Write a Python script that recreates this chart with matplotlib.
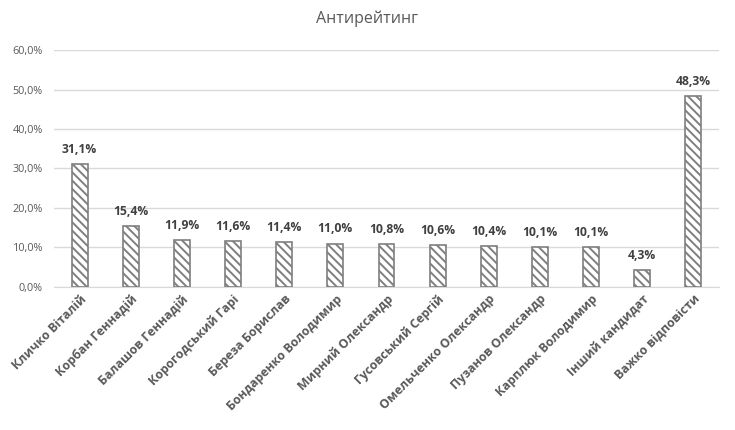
import matplotlib
matplotlib.use("Agg")
import matplotlib.pyplot as plt
from matplotlib.ticker import FuncFormatter

names = ["Кличко Віталій", "Корбан Геннадій", "Балашов Геннадій", "Корогодський Гарі",
         "Береза Борислав", "Бондаренко Володимир", "Мирний Олександр", "Гусовський Сергій",
         "Омельченко Олександр", "Пузанов Олександр", "Карплюк Володимир", "Інший кандидат",
         "Важко відповісти"]
values = [31.1, 15.4, 11.9, 11.6, 11.4, 11.0, 10.8, 10.6, 10.4, 10.1, 10.1, 4.3, 48.3]
yticks = [0, 10, 20, 30, 40, 50, 60]

plt.rcParams['font.family'] = ['Open Sans', 'DejaVu Sans']
plt.rcParams['hatch.linewidth'] = 1.4
plt.rcParams['hatch.color'] = '#7f7f7f'

fig = plt.figure(figsize=(7.35, 4.3), dpi=100)
ax = fig.add_axes([0.0735, 0.3326, 0.9047, 0.5511])

x = range(len(names))
bars = ax.bar(x, values, width=0.31, color='white', edgecolor='#7f7f7f',
              linewidth=1.2, hatch='\\\\\\\\', zorder=3)

for i, v in enumerate(values):
    ax.annotate(f"{v:.1f}%".replace('.', ','), (i, v), xytext=(0, 6),
                textcoords='offset points', ha='center', va='bottom',
                fontsize=8.7, fontweight='bold', color='#404040')

ax.set_xlim(-0.5, len(names) - 0.5)
ax.set_ylim(0, 60)
ax.set_yticks(yticks)
ax.yaxis.set_major_formatter(FuncFormatter(lambda v, p: f"{v:.1f}%".replace('.', ',')))
ax.grid(axis='y', color='#d9d9d9', linewidth=1, zorder=0)
ax.tick_params(axis='y', length=0, labelsize=7.8, labelcolor='#595959', pad=8)
ax.tick_params(axis='x', length=0, pad=4)
ax.set_xticks(list(x))
ax.set_xticklabels(names, rotation=45, ha='right', rotation_mode='anchor',
                   fontsize=8.9, fontweight='bold', color='#595959')
for s in ['top', 'right', 'left']:
    ax.spines[s].set_visible(False)
ax.spines['bottom'].set_color('#d9d9d9')

fig.suptitle("Антирейтинг", x=0.499, y=0.975, fontsize=11.5, color='#595959')

fig.savefig("out.png", dpi=100)
